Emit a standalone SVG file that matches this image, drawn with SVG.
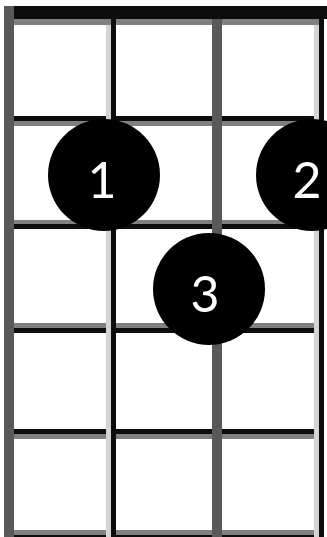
<svg xmlns="http://www.w3.org/2000/svg" width="327" height="537" viewBox="0 0 327 537">
<style>
.blk{fill:#0d0d0d}
.gry{fill:#808080}
.dgr{fill:#595959}
.lgr{fill:#d4d4d4}
.dot{fill:#000}
.num{fill:#fff;font-family:Lato,"Liberation Sans",Arial,sans-serif;font-size:50px;text-anchor:middle}
</style>
<rect width="327" height="537" fill="#fff"/>
<g id="grid">
  <rect class="gry" x="9" y="19" width="315" height="6"/>
  <rect class="blk" x="9" y="6" width="318" height="13"/>
  <rect class="gry" x="9" y="121" width="315" height="5"/>
  <rect class="blk" x="9" y="116" width="315" height="5"/>
  <rect class="gry" x="9" y="220" width="315" height="4"/>
  <rect class="blk" x="9" y="224" width="315" height="5"/>
  <rect class="gry" x="9" y="323" width="315" height="5"/>
  <rect class="blk" x="9" y="328" width="315" height="5"/>
  <rect class="gry" x="9" y="434" width="315" height="5"/>
  <rect class="blk" x="9" y="429" width="315" height="5"/>
  <rect class="gry" x="9" y="530" width="315" height="5"/>
  <rect class="blk" x="9" y="535" width="315" height="2"/>
  <rect class="dgr" x="4" y="6" width="10" height="531"/>
  <rect class="lgr" x="106" y="25" width="5" height="512"/>
  <rect class="blk" x="111" y="19" width="5" height="518"/>
  <rect class="dgr" x="212" y="19" width="10" height="518"/>
  <rect class="lgr" x="314" y="25" width="5" height="512"/>
  <rect class="blk" x="319" y="6" width="5" height="531"/>
</g>
<g id="finger1">
  <circle class="dot" cx="104" cy="175" r="56"/>
  <text class="num" x="102" y="198">1</text>
</g>
<g id="finger2">
  <circle class="dot" cx="312" cy="175" r="56"/>
  <text class="num" x="307" y="198">2</text>
</g>
<g id="finger3">
  <circle class="dot" cx="209" cy="289" r="56"/>
  <text class="num" x="205" y="312">3</text>
</g>
</svg>
